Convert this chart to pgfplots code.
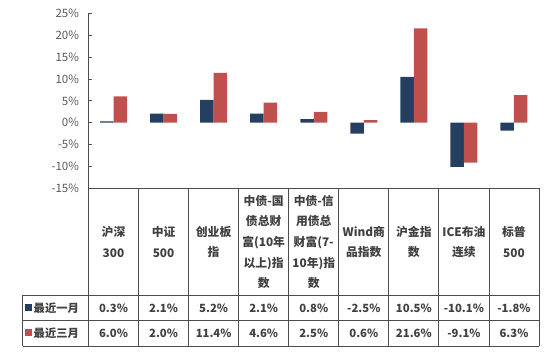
\documentclass[border=0pt]{standalone}
\usepackage{pgfplots}
\pgfplotsset{compat=1.18}
\usepackage{fontspec}
\setmainfont{Noto Sans CJK SC}
\definecolor{cblue}{HTML}{243F60}
\definecolor{cred}{HTML}{C0504D}
\definecolor{tgray}{HTML}{595959}
\definecolor{tdark}{HTML}{404040}
\definecolor{lgray}{HTML}{4D4D4D}
\begin{document}
\begin{tikzpicture}[x=1pt,y=1pt]
\path (0,0) rectangle (554,353);
\begin{axis}[
  at={(88.5pt,164.7pt)}, anchor=south west,
  scale only axis, width=450.5pt, height=174.9pt,
  xmin=-0.5, xmax=8.5, ymin=-15, ymax=25,
  ybar=0pt, bar width=13.5pt,
  axis x line*=bottom, axis y line*=left,
  axis line style={lgray, line width=0.9pt, -},
  xtick={0,...,8},
  xticklabels={沪深\\300, 中证\\500, 创业板\\指, 中债-国\\债总财\\富(10年\\以上)指\\数, 中债-信\\用债总\\财富(7-\\10年)指\\数, Wind商\\品指数, 沪金指\\数, ICE布油\\连续, 标普\\500},
  x tick style={draw=none},
  xticklabel style={anchor=center, yshift=-53.7pt, align=center, text width=50pt, font=\fontsize{11.8}{20.6}\selectfont\bfseries, text=tdark},
  ytick={-15,-10,...,25},
  yticklabel={\pgfmathprintnumber{\tick}\%},
  yticklabel style={font=\fontsize{11.5}{13}\selectfont, text=tgray, xshift=-6pt},
  /pgf/number format/assume math mode=true,
  tick align=inside, major tick length=3pt,
  y tick style={lgray, line width=0.8pt},
  clip=false,
]
\addplot[fill=cblue, draw=none, bar shift=-6.75pt] coordinates {(0,0.3)(1,2.1)(2,5.2)(3,2.1)(4,0.8)(5,-2.5)(6,10.5)(7,-10.1)(8,-1.8)};
\addplot[fill=cred, draw=none, bar shift=6.75pt] coordinates {(0,6.0)(1,2.0)(2,11.4)(3,4.6)(4,2.5)(5,0.6)(6,21.6)(7,-9.1)(8,6.3)};
\end{axis}
% data table grid
\begin{scope}[draw=lgray, line width=0.9pt]
\foreach \k in {0,...,9} \draw ({88.5+50.056*\k},164.7) -- ({88.5+50.056*\k},7);
\draw (22.7,58) -- (538.9,58);
\draw (22.7,32.5) -- (538.9,32.5);
\draw (22.7,7) -- (538.9,7);
\draw (22.7,58) -- (22.7,7);
\end{scope}
% legend keys
\fill[cblue] (25,41.5) rectangle (32,48.5);
\fill[cred] (25,16.5) rectangle (32,23.5);
\node[anchor=west, inner sep=0pt, text=tdark, font=\fontsize{11.3}{12}\selectfont\bfseries] at (33.5,45) {最近一月};
\node[anchor=west, inner sep=0pt, text=tdark, font=\fontsize{11.3}{12}\selectfont\bfseries] at (33.5,20) {最近三月};
% table values
\foreach \v [count=\i from 0] in {0.3\%,2.1\%,5.2\%,2.1\%,0.8\%,-2.5\%,10.5\%,-10.1\%,-1.8\%}
  \node[text=tdark, font=\fontsize{11.3}{12}\selectfont\bfseries] at ({88.5+50.056*(\i+0.5)},45) {\v};
\foreach \v [count=\i from 0] in {6.0\%,2.0\%,11.4\%,4.6\%,2.5\%,0.6\%,21.6\%,-9.1\%,6.3\%}
  \node[text=tdark, font=\fontsize{11.3}{12}\selectfont\bfseries] at ({88.5+50.056*(\i+0.5)},20) {\v};
\end{tikzpicture}
\end{document}
